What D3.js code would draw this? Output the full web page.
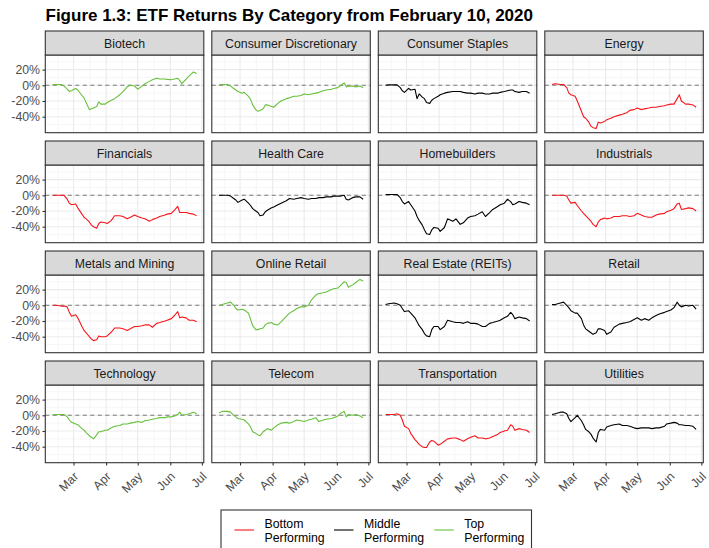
<!DOCTYPE html>
<html><head><meta charset="utf-8">
<script src="https://cdn.jsdelivr.net/npm/d3@7"></script>
<style>body{margin:0;background:#fff;}svg{display:block;font-family:"Liberation Sans",Arial,sans-serif;}</style>
</head><body><svg id="c" width="709" height="548"></svg>
<script>
const dates = ["2020-02-10","2020-02-13","2020-02-18","2020-02-21","2020-02-24","2020-02-26","2020-02-28","2020-03-03","2020-03-05","2020-03-09","2020-03-11","2020-03-13","2020-03-16","2020-03-18","2020-03-20","2020-03-23","2020-03-25","2020-03-27","2020-03-31","2020-04-02","2020-04-06","2020-04-09","2020-04-14","2020-04-17","2020-04-21","2020-04-24","2020-04-28","2020-05-01","2020-05-05","2020-05-08","2020-05-12","2020-05-15","2020-05-19","2020-05-22","2020-05-27","2020-05-29","2020-06-02","2020-06-05","2020-06-08","2020-06-10","2020-06-12","2020-06-16","2020-06-19","2020-06-23","2020-06-26"];
const categories = ["Biotech","Consumer Discretionary","Consumer Staples","Energy","Financials","Health Care","Homebuilders","Industrials","Metals and Mining","Online Retail","Real Estate (REITs)","Retail","Technology","Telecom","Transportation","Utilities"];
const groups = ["Top","Top","Middle","Bottom","Bottom","Middle","Middle","Bottom","Bottom","Top","Middle","Middle","Top","Top","Bottom","Middle"];
const biotech = [0.5,1,1,-1,-5, -8,-7,-4,-6,-13, -16,-22,-31,-30,-29, -27,-21,-24,-24,-22, -19,-17,-12,-8,-2, 0,-1,-5,-1,2, 5,7,9,8,8, 7.5,7,8,9,6, 2,8,12,17,15];
const consumerDisc = [0.5,1,1,-1,-4, -6,-8,-10,-9,-14, -18,-25,-31,-33,-32, -30,-25,-25,-27,-28, -23,-20,-17,-16,-14, -14,-13,-11,-12,-11, -10,-9,-7,-6,-5, -4,-3,0,3,-2, -1,-1,-2,-1,-3];
const consumerStaples = [0,0.5,0.5,0.5,-3, -7,-9,-4,-6,-5, -17,-11,-15,-17,-22, -23,-19,-17,-14,-12, -10,-9,-8,-8,-8, -9,-10,-10,-11,-10, -10,-11,-11,-10,-10, -9,-8,-7,-6,-6, -8,-9,-8,-8,-10];
const energy = [1,2,1,1,-3, -10,-12,-14,-20,-33, -40,-42,-47,-52,-54, -55,-47,-48,-46,-44, -42,-40,-38,-37,-35, -32,-31,-29,-31,-30, -29,-28,-28,-27,-26, -25,-24,-24,-17,-12, -20,-24,-24,-25,-28];
const financials = [0,0,0,0,-5, -10,-12,-11,-16,-24, -28,-30,-34,-38,-40, -42,-36,-34,-35,-36, -32,-26,-26,-27,-30, -28,-25,-27,-29,-30, -33,-31,-29,-27,-25, -24,-23,-19,-14,-22, -22,-22,-23,-24,-26];
const healthCare = [0,0,0,-1,-4, -6,-9,-6,-5,-10, -13,-17,-20,-22,-26, -25,-21,-19,-16,-15, -12,-10,-7,-4,-5, -4,-3,-4,-5,-4, -4,-3,-3,-2,-2, -1,-1,-1,0,-5, -6,-3,-2,-2,-5];
const homebuilders = [1,1,1,1,-3, -8,-11,-8,-12,-20, -27,-32,-38,-44,-49, -50,-44,-41,-42,-46, -41,-30,-33,-30,-37, -35,-29,-27,-26,-24, -21,-27,-22,-18,-14, -12,-10,-5,-8,-12, -11,-8,-9,-10,-12];
const industrials = [0,0,0,0,-1, -6,-10,-9,-13,-20, -23,-26,-30,-33,-37, -40,-34,-31,-29,-30, -29,-27,-27,-26,-26, -27,-26,-23,-25,-27, -28,-28,-25,-24,-23, -21,-19,-17,-11,-10, -18,-17,-16,-17,-20];
const metalsMining = [0,0,-1,-1,-2, -9,-14,-12,-16,-27, -32,-35,-40,-43,-45, -44,-39,-40,-40,-39, -34,-29,-29,-30,-32, -30,-27,-27,-26,-25, -25,-28,-23,-22,-20, -19,-17,-13,-8,-16, -15,-16,-19,-19,-21];
const onlineRetail = [0,1,3,4,0, -4,-6,-5,-6,-10, -18,-26,-31,-31,-30, -29,-25,-23,-22,-24, -25,-21,-14,-10,-7, -4,-2,-2,0,7, 13,15,16,17,20, 21,22,26,30,29, 23,26,29,33,31];
const realEstate = [1,2,3,2,0, -4,-8,-7,-10,-16, -21,-26,-31,-36,-39, -40,-31,-27,-27,-31, -27,-19,-21,-22,-22, -23,-21,-23,-23,-24, -27,-27,-23,-22,-20, -19,-16,-14,-9,-12, -17,-15,-16,-17,-20];
const retail = [1,1,3,4,0, -3,-7,-10,-10,-17, -25,-30,-33,-35,-37, -35,-30,-30,-32,-37, -34,-28,-24,-23,-22, -21,-18,-16,-19,-17, -19,-16,-13,-11,-9, -8,-6,-3,4,0, -2,0,-1,0,-5];
const technology = [0.5,1,1,1,-2, -6,-9,-11,-12,-17, -19,-22,-26,-28,-30, -25,-21,-21,-19,-19, -16,-14,-13,-11,-11, -10,-9,-8,-9,-7, -6,-5,-4,-3,-3, -2,-2,-1,1,4, 0,1,2,4,2];
const telecom = [3,5,5,4,0, -2,-4,-5,-6,-11, -15,-21,-23,-25,-26, -21,-19,-17,-19,-16, -12,-10,-9,-10,-8, -6,-7,-8,-6,-5, -3,-8,-6,-5,-4, -3,-1,3,5,-2, 1,0,1,-1,-3];
const transportation = [1,1,1,2,0, -6,-14,-17,-23,-31, -34,-37,-40,-41,-41, -34,-32,-33,-38,-37, -33,-30,-29,-29,-31, -33,-30,-28,-26,-29, -29,-30,-29,-27,-24, -22,-20,-19,-12,-14, -19,-17,-18,-19,-22];
const utilities = [1,2,4,4,2, -4,-8,-3,0,-7, -12,-18,-21,-24,-29, -34,-22,-18,-19,-15, -13,-12,-11,-13,-13, -14,-16,-17,-16,-16, -16,-17,-16,-16,-14, -11,-10,-9,-10,-12, -12,-13,-13,-14,-18];
const seriesValues = [biotech,consumerDisc,consumerStaples,energy,financials,healthCare,homebuilders,industrials,metalsMining,onlineRetail,realEstate,retail,technology,telecom,transportation,utilities];
const yTicks = [-40,-20,0,20];
const yMinor = [-50,-30,-10,10,30];
const xTickLabels = ["Mar","Apr","May","Jun","Jul"];
const legendGroups = ["Bottom","Middle","Top"];
const legendLabels = [["Bottom","Performing"],["Middle","Performing"],["Top","Performing"]];
const titleText = "Figure 1.3: ETF Returns By Category from February 10, 2020";

const parse = d3.timeParse("%Y-%m-%d");
const dts = dates.map(parse);
const color = d3.scaleOrdinal().domain(legendGroups).range(["#f8141b","#000000","#66c13b"]);

const svg = d3.select("#c");
svg.append("text").attr("x",45.5).attr("y",20.8).attr("font-size",17).attr("font-weight","bold").attr("fill","#000").text(titleText);

const left0 = 45.3, pw = 158.5, gapX = 8, stripTop0 = 31, stripH = 24, ph = 77.7, rowPitch = 110;
const pad = (dts[dts.length-1]-dts[0])*0.05;
const x = d3.scaleTime().domain([new Date(+dts[0]-pad), new Date(+dts[dts.length-1]+pad)]).range([0,pw]);
const y = d3.scaleLinear().domain([-60.4,38.6]).range([ph,0]);
const monthTicks = xTickLabels.map((m,i)=>new Date(2020,2+i,1));
const monthAll = [new Date(2020,1,1)].concat(monthTicks);
const xMinor = [];
for(let i=0;i<monthAll.length-1;i++) xMinor.push(new Date((+monthAll[i]+ +monthAll[i+1])/2));
const line = d3.line().x((d,i)=>x(dts[i])).y(d=>y(d));

categories.forEach((cat,k)=>{
  const r = Math.floor(k/4), c = k%4;
  const px = left0 + c*(pw+gapX);
  const sy = stripTop0 + r*rowPitch;
  const py = sy + stripH;
  const g = svg.append("g").attr("transform",`translate(${px},${py})`);
  g.selectAll(".ym").data(yMinor).join("line").attr("x1",0).attr("x2",pw).attr("y1",d=>y(d)).attr("y2",d=>y(d)).attr("stroke","#f2f2f2").attr("stroke-width",0.6);
  g.selectAll(".xm").data(xMinor.filter(d=>x(d)>0&&x(d)<pw)).join("line").attr("y1",0).attr("y2",ph).attr("x1",d=>x(d)).attr("x2",d=>x(d)).attr("stroke","#f2f2f2").attr("stroke-width",0.6);
  g.selectAll(".yM").data(yTicks).join("line").attr("x1",0).attr("x2",pw).attr("y1",d=>y(d)).attr("y2",d=>y(d)).attr("stroke","#ebebeb").attr("stroke-width",1.1);
  g.selectAll(".xM").data(monthTicks.filter(d=>x(d)<pw)).join("line").attr("y1",0).attr("y2",ph).attr("x1",d=>x(d)).attr("x2",d=>x(d)).attr("stroke","#ebebeb").attr("stroke-width",1.1);
  g.append("line").attr("x1",0).attr("x2",pw).attr("y1",y(0)).attr("y2",y(0)).attr("stroke","#7a7a7a").attr("stroke-width",1.1).attr("stroke-dasharray","4,3.5");
  g.append("path").attr("d",line(seriesValues[k])).attr("fill","none").attr("stroke",color(groups[k])).attr("stroke-width",1.1).attr("stroke-linejoin","round");
  g.append("rect").attr("x",0).attr("y",0).attr("width",pw).attr("height",ph).attr("fill","none").attr("stroke","#333").attr("stroke-width",1.1);
  svg.append("rect").attr("x",px).attr("y",sy).attr("width",pw).attr("height",stripH).attr("fill","#d9d9d9").attr("stroke","#333").attr("stroke-width",1.1);
  svg.append("text").attr("x",px+pw/2).attr("y",sy+stripH/2+4.5).attr("text-anchor","middle").attr("font-size",12.3).attr("fill","#1a1a1a").text(cat);
  if(c===0){
    const ax = g.append("g").call(d3.axisLeft(y).tickValues(yTicks).tickSize(2.8).tickPadding(2.5).tickFormat(d=>d+"%"));
    ax.select(".domain").remove();
    ax.selectAll("line").attr("stroke","#333").attr("stroke-width",1.1);
    ax.selectAll("text").attr("font-size",12.3).attr("fill","#4d4d4d").attr("font-family","Liberation Sans, Arial, sans-serif");
  }
  if(r===3){
    const ax = g.append("g").attr("transform",`translate(0,${ph})`).call(d3.axisBottom(x).tickValues(monthTicks).tickSize(2.8).tickFormat((d,i)=>xTickLabels[i]));
    ax.select(".domain").remove();
    ax.selectAll("line").attr("stroke","#333").attr("stroke-width",1.1);
    ax.selectAll("text").attr("font-size",12.3).attr("fill","#4d4d4d").attr("font-family","Liberation Sans, Arial, sans-serif")
      .attr("text-anchor","end").attr("dy",null).attr("y",null)
      .attr("transform","translate(5,14.5) rotate(-45)");
  }
});

const lg = svg.append("g");
lg.append("rect").attr("x",221).attr("y",510).attr("width",310.5).attr("height",45).attr("fill","#fff").attr("stroke","#333").attr("stroke-width",1.1);
const keyX = [234.5,334,434.3];
legendGroups.forEach((gname,i)=>{
  lg.append("line").attr("x1",keyX[i]).attr("x2",keyX[i]+19.5).attr("y1",530).attr("y2",530).attr("stroke",color(gname)).attr("stroke-width",1.1);
  const t = lg.append("text").attr("font-size",12.3).attr("fill","#000");
  t.append("tspan").attr("x",keyX[i]+30).attr("y",528).text(legendLabels[i][0]);
  t.append("tspan").attr("x",keyX[i]+30).attr("y",541.7).text(legendLabels[i][1]);
});
</script></body></html>
